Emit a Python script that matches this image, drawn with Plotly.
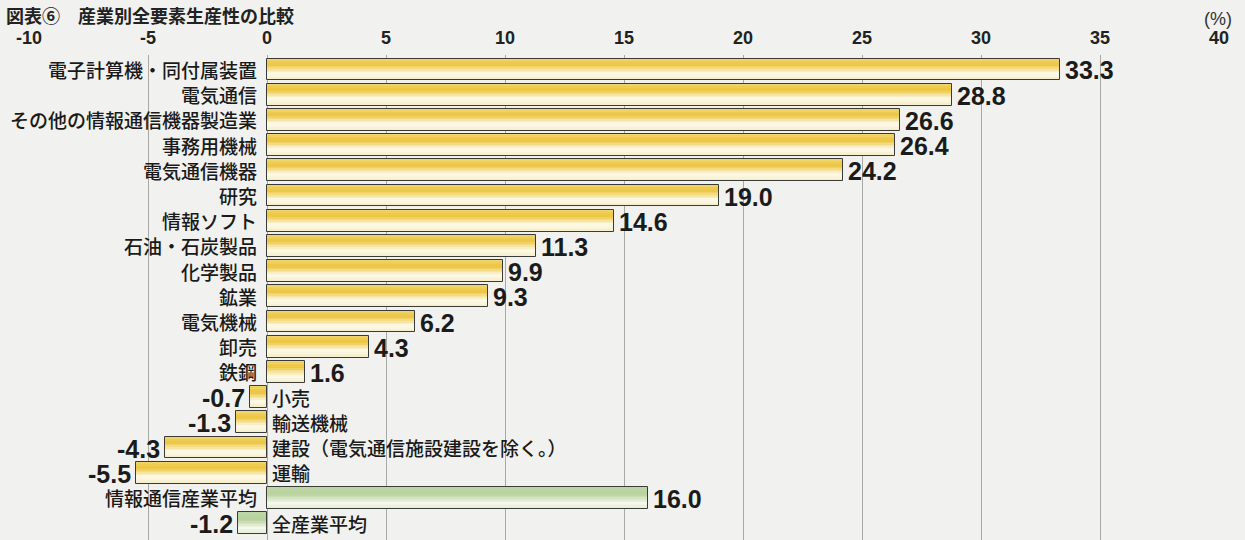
import plotly.graph_objects as go

# 産業別全要素生産性の比較 (%)
industries = [
    "電子計算機・同付属装置", "電気通信", "その他の情報通信機器製造業", "事務用機械",
    "電気通信機器", "研究", "情報ソフト", "石油・石炭製品", "化学製品", "鉱業",
    "電気機械", "卸売", "鉄鋼", "小売", "輸送機械",
    "建設（電気通信施設建設を除く。）", "運輸", "情報通信産業平均", "全産業平均",
]
growth = [33.3, 28.8, 26.6, 26.4, 24.2, 19.0, 14.6, 11.3, 9.9, 9.3,
          6.2, 4.3, 1.6, -0.7, -1.3, -4.3, -5.5, 16.0, -1.2]
is_average = [False] * 17 + [True, True]

tick_vals = [-10, -5, 0, 5, 10, 15, 20, 25, 30, 35, 40]

BG = "#f1f1ef"
JP_FONT = "Noto Sans CJK JP"
NUM_FONT = "Liberation Sans"

# colour stops from the top edge of a bar to its bottom edge
yellow_stops = [(0.0, (242, 214, 112)), (0.3, (236, 196, 62)),
                (0.7, (253, 250, 236)), (1.0, (246, 238, 200))]
green_stops = [(0.0, (190, 214, 166)), (0.35, (184, 210, 158)),
               (0.75, (244, 248, 236)), (1.0, (226, 236, 212))]


def shade(stops, t):
    for (t0, c0), (t1, c1) in zip(stops, stops[1:]):
        if t0 <= t <= t1:
            f = (t - t0) / (t1 - t0) if t1 > t0 else 0
            r, g, b = (round(a + (b_ - a) * f) for a, b_ in zip(c0, c1))
            return f"rgb({r},{g},{b})"
    r, g, b = stops[-1][1]
    return f"rgb({r},{g},{b})"


pos = list(range(len(industries)))
BAR_W = 0.86
N_BANDS = 14

fig = go.Figure()

# vertical gradient built from thin horizontal bands of each bar
for k in range(N_BANDS):
    t = (k + 0.5) / N_BANDS
    colors = [shade(green_stops if avg else yellow_stops, t) for avg in is_average]
    fig.add_trace(go.Bar(
        x=growth, y=pos, base=0, orientation="h",
        width=BAR_W / N_BANDS + 0.004,
        offset=-BAR_W / 2 + k * BAR_W / N_BANDS,
        marker=dict(color=colors, line=dict(width=0)),
        hoverinfo="skip", showlegend=False,
    ))

# bar outlines
fig.add_trace(go.Bar(
    x=growth, y=pos, base=0, orientation="h",
    width=BAR_W, offset=-BAR_W / 2,
    marker=dict(color="rgba(0,0,0,0)", line=dict(color="#3a3a36", width=1)),
    customdata=industries,
    hovertemplate="%{customdata}: %{x:.1f}%<extra></extra>",
    showlegend=False,
))

annotations = []
for name, v, y in zip(industries, growth, pos):
    # industry name beside the zero line
    annotations.append(dict(
        x=0, y=y, xref="x", yref="y", text=name, showarrow=False,
        xanchor="right" if v >= 0 else "left",
        xshift=-8 if v >= 0 else 3,
        font=dict(family=JP_FONT, size=19, color="#1a1a1a", weight=500),
    ))
    # value at the end of the bar
    annotations.append(dict(
        x=v, y=y, xref="x", yref="y", text=f"<b>{v:.1f}</b>", showarrow=False,
        xanchor="left" if v >= 0 else "right",
        xshift=3 if v >= 0 else -3, yshift=-1,
        font=dict(family=NUM_FONT, size=25, color="#1b1b1b"),
    ))

annotations.append(dict(
    x=1.0, y=1.0, xref="paper", yref="paper", text="(%)", showarrow=False,
    xanchor="center", yanchor="bottom", yshift=24, xshift=-1,
    font=dict(family=NUM_FONT, size=18, color="#333"),
))
annotations.append(dict(
    x=0, y=1.0, xref="paper", yref="paper",
    text="<b>図表⑥　産業別全要素生産性の比較</b>", showarrow=False,
    xanchor="left", yanchor="top", yshift=55, xshift=-25,
    font=dict(family=JP_FONT, size=18, color="#222"),
))

fig.update_layout(
    width=1245, height=540,
    margin=dict(l=29, r=26, t=55, b=0),
    paper_bgcolor=BG, plot_bgcolor=BG,
    barmode="overlay", bargap=0,
    annotations=annotations,
    xaxis=dict(
        range=[-10, 40], side="top", tickvals=tick_vals,
        ticktext=[f"<b>{t}</b>" for t in tick_vals],
        tickfont=dict(family=NUM_FONT, size=18, color="#222"),
        showgrid=True, gridcolor="#a8a8a4", gridwidth=1,
        zeroline=False, showline=False, ticks="", ticklabelstandoff=6,
        fixedrange=True,
    ),
    yaxis=dict(
        range=[18.67, -0.575], showticklabels=False, showgrid=False,
        zeroline=False, showline=False, fixedrange=True,
    ),
)

fig.write_html("out.html")
